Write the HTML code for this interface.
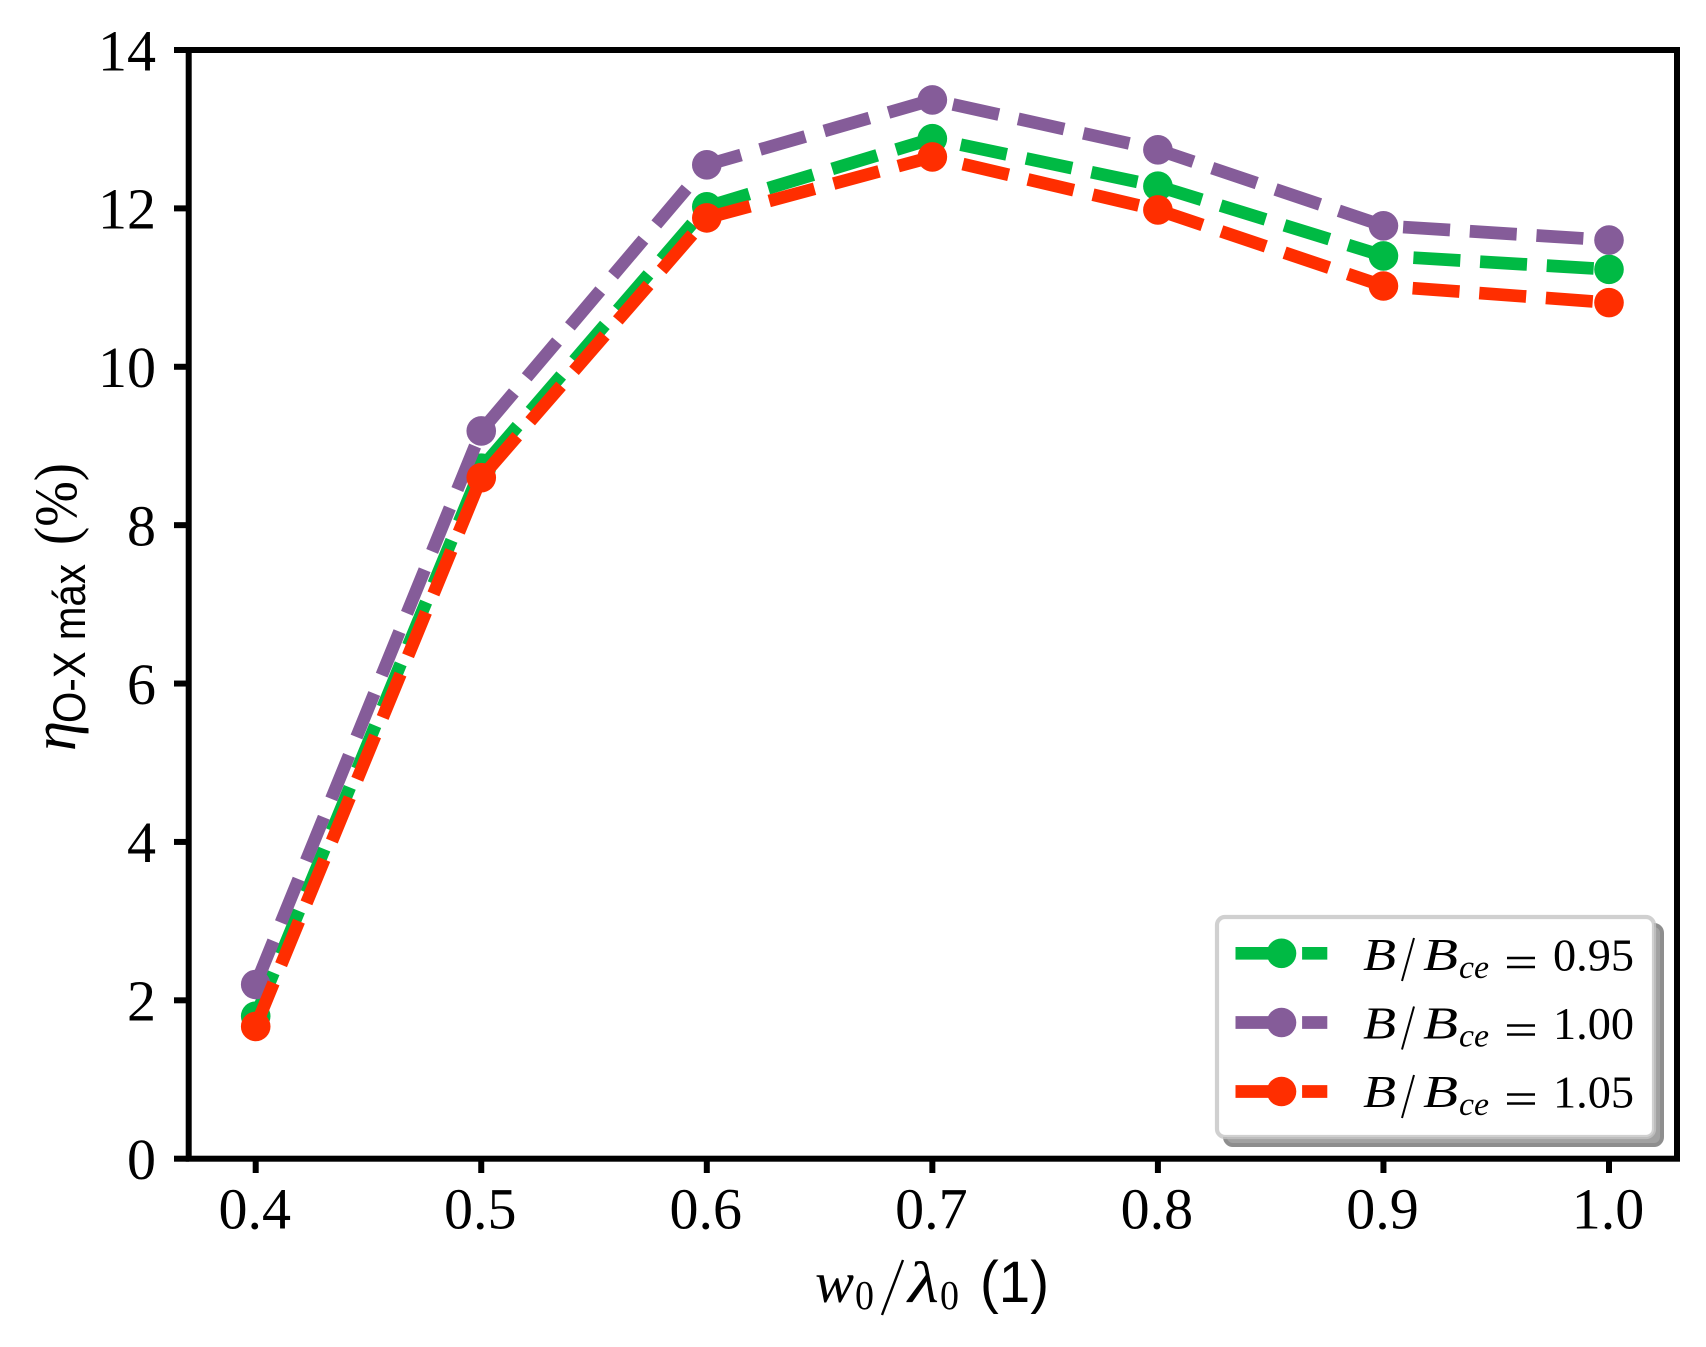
<!DOCTYPE html>
<html lang="en">
<head>
<meta charset="utf-8">
<title>Chart</title>
<style>
html,body{margin:0;padding:0;background:#fff;}
svg{display:block;}
.serif{font-family:"Liberation Serif",serif;fill:#000;}
.sans{font-family:"Liberation Sans",sans-serif;fill:#000;}
.it{font-style:italic;}
</style>
</head>
<body>
<svg id="chart" width="1706" height="1347" viewBox="0 0 1706 1347" xmlns="http://www.w3.org/2000/svg">
  <rect x="0" y="0" width="1706" height="1347" fill="#ffffff"/>
  <g id="series-layer"></g>
  <g id="tick-layer"></g>
  <g fill="none" stroke="#000" stroke-width="6">
    <rect x="188.7" y="50" width="1488.3" height="1108.7"/>
  </g>

  <g>
    <text class="serif it" x="815" y="1302" font-size="58" textLength="39" lengthAdjust="spacingAndGlyphs">w</text>
    <text class="serif" x="855" y="1309" font-size="41" textLength="19" lengthAdjust="spacingAndGlyphs">0</text>
    <line x1="903" y1="1260" x2="882" y2="1315" stroke="#000" stroke-width="2.4"/>
    <text class="serif it" x="908" y="1302" font-size="58" textLength="31" lengthAdjust="spacingAndGlyphs">λ</text>
    <text class="serif" x="940" y="1309" font-size="41" textLength="19" lengthAdjust="spacingAndGlyphs">0</text>
    <text class="sans" x="980" y="1302" font-size="58" textLength="69" lengthAdjust="spacingAndGlyphs">(1)</text>
  </g>

  <g>
    <text class="serif it" transform="translate(75 751) rotate(-90)" x="0" y="0" font-size="62" textLength="30" lengthAdjust="spacingAndGlyphs">η</text>
    <text class="sans" transform="translate(85 723) rotate(-90)" x="0" y="0" font-size="45" textLength="159" lengthAdjust="spacingAndGlyphs">O-X máx</text>
    <text class="serif" transform="translate(76 545) rotate(-90)" x="0" y="0" font-size="60" textLength="82" lengthAdjust="spacingAndGlyphs">(%)</text>
  </g>

  <g>
    <rect x="1225" y="925" width="437" height="220" rx="8" fill="#a2a2a2" stroke="#8e8e8e" stroke-width="4"/>
    <rect x="1217" y="917" width="437" height="220" rx="8" fill="#ffffff" stroke="#c4c4c4" stroke-opacity="0.8" stroke-width="4.2"/>

    <g>
      <line x1="1235.5" y1="953.3" x2="1327.3" y2="953.3" stroke="#00BA44" stroke-width="12.7" stroke-dasharray="47 19.6"/>
      <circle cx="1281.5" cy="953.3" r="14.8" fill="#00BA44"/>
      <text class="serif it" x="1363" y="970" font-size="46" textLength="33" lengthAdjust="spacingAndGlyphs">B</text>
      <line x1="1414" y1="938" x2="1402" y2="981" stroke="#000" stroke-width="2"/>
      <text class="serif it" x="1423" y="970" font-size="46" textLength="35" lengthAdjust="spacingAndGlyphs">B</text>
      <text class="serif it" x="1459" y="978" font-size="33" textLength="30" lengthAdjust="spacingAndGlyphs">ce</text>
      <line x1="1507" y1="958" x2="1535" y2="958" stroke="#000" stroke-width="2.4"/>
      <line x1="1507" y1="967" x2="1535" y2="967" stroke="#000" stroke-width="2.4"/>
      <text class="serif" x="1553" y="970.5" font-size="45" textLength="81" lengthAdjust="spacingAndGlyphs">0.95</text>
    </g>

    <g>
      <line x1="1235.5" y1="1022.5" x2="1327.3" y2="1022.5" stroke="#855C99" stroke-width="12.7" stroke-dasharray="47 19.6"/>
      <circle cx="1281.5" cy="1022.5" r="14.8" fill="#855C99"/>
      <text class="serif it" x="1363" y="1038.5" font-size="46" textLength="33" lengthAdjust="spacingAndGlyphs">B</text>
      <line x1="1414" y1="1006.5" x2="1402" y2="1049.5" stroke="#000" stroke-width="2"/>
      <text class="serif it" x="1423" y="1038.5" font-size="46" textLength="35" lengthAdjust="spacingAndGlyphs">B</text>
      <text class="serif it" x="1459" y="1046.5" font-size="33" textLength="30" lengthAdjust="spacingAndGlyphs">ce</text>
      <line x1="1507" y1="1025.5" x2="1535" y2="1025.5" stroke="#000" stroke-width="2.4"/>
      <line x1="1507" y1="1034.5" x2="1535" y2="1034.5" stroke="#000" stroke-width="2.4"/>
      <text class="serif" x="1553" y="1039" font-size="45" textLength="81" lengthAdjust="spacingAndGlyphs">1.00</text>
    </g>

    <g>
      <line x1="1235.5" y1="1091.5" x2="1327.3" y2="1091.5" stroke="#FF2E00" stroke-width="12.7" stroke-dasharray="47 19.6"/>
      <circle cx="1281.5" cy="1091.5" r="14.8" fill="#FF2E00"/>
      <text class="serif it" x="1363" y="1107" font-size="46" textLength="33" lengthAdjust="spacingAndGlyphs">B</text>
      <line x1="1414" y1="1075" x2="1402" y2="1118" stroke="#000" stroke-width="2"/>
      <text class="serif it" x="1423" y="1107" font-size="46" textLength="35" lengthAdjust="spacingAndGlyphs">B</text>
      <text class="serif it" x="1459" y="1115" font-size="33" textLength="30" lengthAdjust="spacingAndGlyphs">ce</text>
      <line x1="1507" y1="1094.5" x2="1535" y2="1094.5" stroke="#000" stroke-width="2.4"/>
      <line x1="1507" y1="1103.5" x2="1535" y2="1103.5" stroke="#000" stroke-width="2.4"/>
      <text class="serif" x="1553" y="1107.5" font-size="45" textLength="81" lengthAdjust="spacingAndGlyphs">1.05</text>
    </g>
  </g>
</svg>

<script>
const categories = [0.4, 0.5, 0.6, 0.7, 0.8, 0.9, 1.0];
const valuesB095 = [1.80, 8.72, 12.02, 12.88, 12.28, 11.40, 11.23];
const valuesB100 = [2.20, 9.19, 12.55, 13.37, 12.74, 11.78, 11.60];
const valuesB105 = [1.67, 8.60, 11.88, 12.65, 11.98, 11.02, 10.81];
const xTickValues = [0.4, 0.5, 0.6, 0.7, 0.8, 0.9, 1.0];
const xTickLabels = ["0.4", "0.5", "0.6", "0.7", "0.8", "0.9", "1.0"];
const yTickValues = [0, 2, 4, 6, 8, 10, 12, 14];
const yTickLabels = ["0", "2", "4", "6", "8", "10", "12", "14"];

const SVG_NS = "http://www.w3.org/2000/svg";

function xScale(v) {
  return 255.7 + (v - 0.4) * 2255.5;
}
function yScale(v) {
  return 1158.7 - v * (1108.7 / 14);
}

const seriesLayer = document.getElementById("series-layer");
const tickLayer = document.getElementById("tick-layer");

function drawSeries(name, values, color) {
  const group = document.createElementNS(SVG_NS, "g");
  
  

  const line = document.createElementNS(SVG_NS, "polyline");
  
  
  line.setAttribute("points", values.map(function (v, i) {
    return xScale(categories[i]) + "," + yScale(v);
  }).join(" "));
  line.setAttribute("fill", "none");
  line.setAttribute("stroke", color);
  line.setAttribute("stroke-width", "12.7");
  line.setAttribute("stroke-dasharray", "47 19.8");
  line.setAttribute("stroke-linejoin", "round");
  line.setAttribute("stroke-linecap", "butt");
  group.appendChild(line);

  values.forEach(function (v, i) {
    const dot = document.createElementNS(SVG_NS, "circle");
    
    
    dot.setAttribute("cx", xScale(categories[i]));
    dot.setAttribute("cy", yScale(v));
    dot.setAttribute("r", "14.8");
    dot.setAttribute("fill", color);
    group.appendChild(dot);
  });

  seriesLayer.appendChild(group);
}

drawSeries("series-b-095", valuesB095, "#00BA44");
drawSeries("series-b-100", valuesB100, "#855C99");
drawSeries("series-b-105", valuesB105, "#FF2E00");

xTickValues.forEach(function (v, i) {
  const tick = document.createElementNS(SVG_NS, "line");
  
  
  tick.setAttribute("x1", xScale(v));
  tick.setAttribute("x2", xScale(v));
  tick.setAttribute("y1", yScale(0));
  tick.setAttribute("y2", 1173);
  tick.setAttribute("stroke", "#000");
  tick.setAttribute("stroke-width", "6");
  tickLayer.appendChild(tick);

  const label = document.createElementNS(SVG_NS, "text");
  
  
  label.setAttribute("class", "serif");
  label.setAttribute("x", xScale(v) - 1);
  label.setAttribute("y", 1228.5);
  label.setAttribute("font-size", "58");
  label.setAttribute("text-anchor", "middle");
  label.textContent = xTickLabels[i];
  tickLayer.appendChild(label);
});

yTickValues.forEach(function (v, i) {
  const tick = document.createElementNS(SVG_NS, "line");
  
  
  tick.setAttribute("x1", 174);
  tick.setAttribute("x2", 189);
  tick.setAttribute("y1", yScale(v));
  tick.setAttribute("y2", yScale(v));
  tick.setAttribute("stroke", "#000");
  tick.setAttribute("stroke-width", "6");
  tickLayer.appendChild(tick);

  const label = document.createElementNS(SVG_NS, "text");
  
  
  label.setAttribute("class", "serif");
  label.setAttribute("x", 156);
  label.setAttribute("y", yScale(v) + 20.3);
  label.setAttribute("font-size", "58");
  label.setAttribute("text-anchor", "end");
  label.textContent = yTickLabels[i];
  tickLayer.appendChild(label);
});
</script>
</body>
</html>
